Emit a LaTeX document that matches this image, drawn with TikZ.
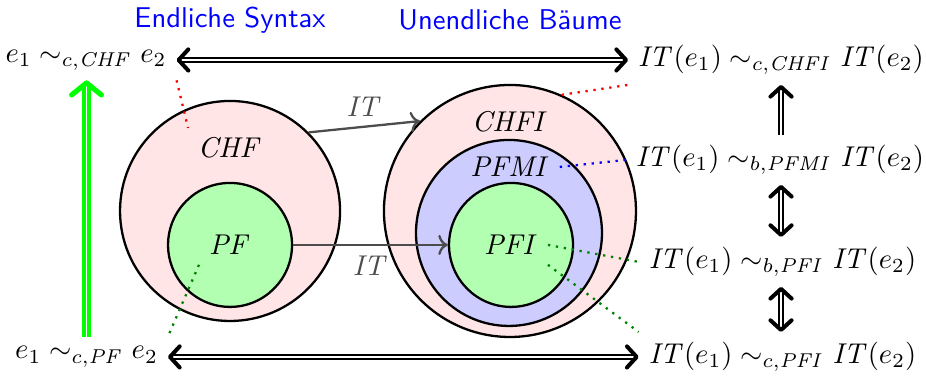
\documentclass[tikz,border=0pt]{standalone}
\usepackage{amsmath}
\usetikzlibrary{arrows.meta, positioning, calc}

\begin{document}
\begin{tikzpicture}
        % --- Styles ---
        \tikzstyle{menge}=[circle, draw=black, thick, inner sep=0pt]
        \tikzstyle{folgt}=[thick, double, >={Straight Barb[length=3.4pt, width=7.4pt, line width=1.4pt, round]}]
        \tikzstyle{itpfeil}=[->, thick, black!70]
        \tikzstyle{punkte}=[thick, dotted]
        \tikzstyle{titel}=[font=\sffamily, text=blue]

        \useasboundingbox (0,0) rectangle (11.376,4.631);

        % --- 1. Titles ---
        \node[titel] (syntax) at (2.826,4.386) {Endliche Syntax};
        \node[titel] (baeume) at (6.265,4.386) {Unendliche Bäume};

        % --- 2. Finite syntax: CHF contains PF ---
        \node[menge, fill=red!10, minimum size=2.703cm] (chf) at (2.826,2.039) {};
        \node[menge, fill=green!30, minimum size=1.523cm] (pf) at (2.826,1.622) {};
        \node (chflabel) at (2.826,2.813) {$\mathit{CHF}$};
        \node (pflabel) at (pf) {$\mathit{PF}$};

        % --- 3. Infinite trees: CHFI contains PFMI contains PFI ---
        \node[menge, fill=red!10, minimum size=3.096cm] (chfi) at (6.265,2.039) {};
        \node[menge, fill=blue!20, minimum size=2.285cm] (pfmi) at (6.253,1.769) {};
        \node[menge, fill=green!30, minimum size=1.523cm] (pfi) at (6.278,1.622) {};
        \node (chfilabel) at (6.265,3.133) {$\mathit{CHFI}$};
        \node (pfmilabel) at (6.265,2.58) {$\mathit{PFMI}$};
        \node (pfilabel) at (pfi) {$\mathit{PFI}$};

        % translation IT
        \draw[itpfeil] (chf.45) -- node[above, text=black!70] {$\mathit{IT}$} (chfi.135);
        \draw[itpfeil] (pf.east) -- node[below, text=black!70] {$\mathit{IT}$} (pfi.west);

        % --- 4. Equivalences ---
        \node (cchf) at (1.057,3.894) {$e_1 \sim_{c,\mathit{CHF}} e_2$};
        \node (cpf) at (1.063,0.246) {$e_1 \sim_{c,\mathit{PF}} e_2$};
        \node (cchfi) at (9.595,3.894) {$\mathit{IT}(e_1) \sim_{c,\mathit{CHFI}} \mathit{IT}(e_2)$};
        \node (bpfmi) at (9.582,2.666) {$\mathit{IT}(e_1) \sim_{b,\mathit{PFMI}} \mathit{IT}(e_2)$};
        \node (bpfi) at (9.613,1.413) {$\mathit{IT}(e_1) \sim_{b,\mathit{PFI}} \mathit{IT}(e_2)$};
        \node (cpfi) at (9.613,0.246) {$\mathit{IT}(e_1) \sim_{c,\mathit{PFI}} \mathit{IT}(e_2)$};

        \draw[folgt, <->] (cchf) -- (cchfi);
        \draw[folgt, <->] (cpf) -- (cpfi);
        \draw[folgt, very thick, green, -{Straight Barb[length=4.2pt, width=10.4pt, line width=1.8pt, round]}]
            (cpf.north) -- (cpf.north |- cchf.south);
        \draw[folgt, ->] (cchfi.south |- bpfmi.north) -- (cchfi.south);
        \draw[folgt, <->] (cchfi.south |- bpfmi.south) -- (cchfi.south |- bpfi.north);
        \draw[folgt, <->] (cchfi.south |- bpfi.south) -- (cchfi.south |- cpfi.north);

        % which set goes with which relation
        \coordinate (chfpkt) at (2.31,3.059);
        \draw[punkte, red] (cchf.south east) -- (chfpkt);
        \draw[punkte, red] (chfi.66) -- (cchfi.south west);
        \draw[punkte, blue] (pfmilabel.east) -- (bpfmi.west);
        \draw[punkte, green!50!black] (pfilabel.east) -- (bpfi.west);
        \draw[punkte, green!50!black] (pfilabel.south east) -- (cpfi.north west);
        \draw[punkte, green!50!black] (pflabel.south west) -- (cpf.north east);
\end{tikzpicture}
\end{document}
